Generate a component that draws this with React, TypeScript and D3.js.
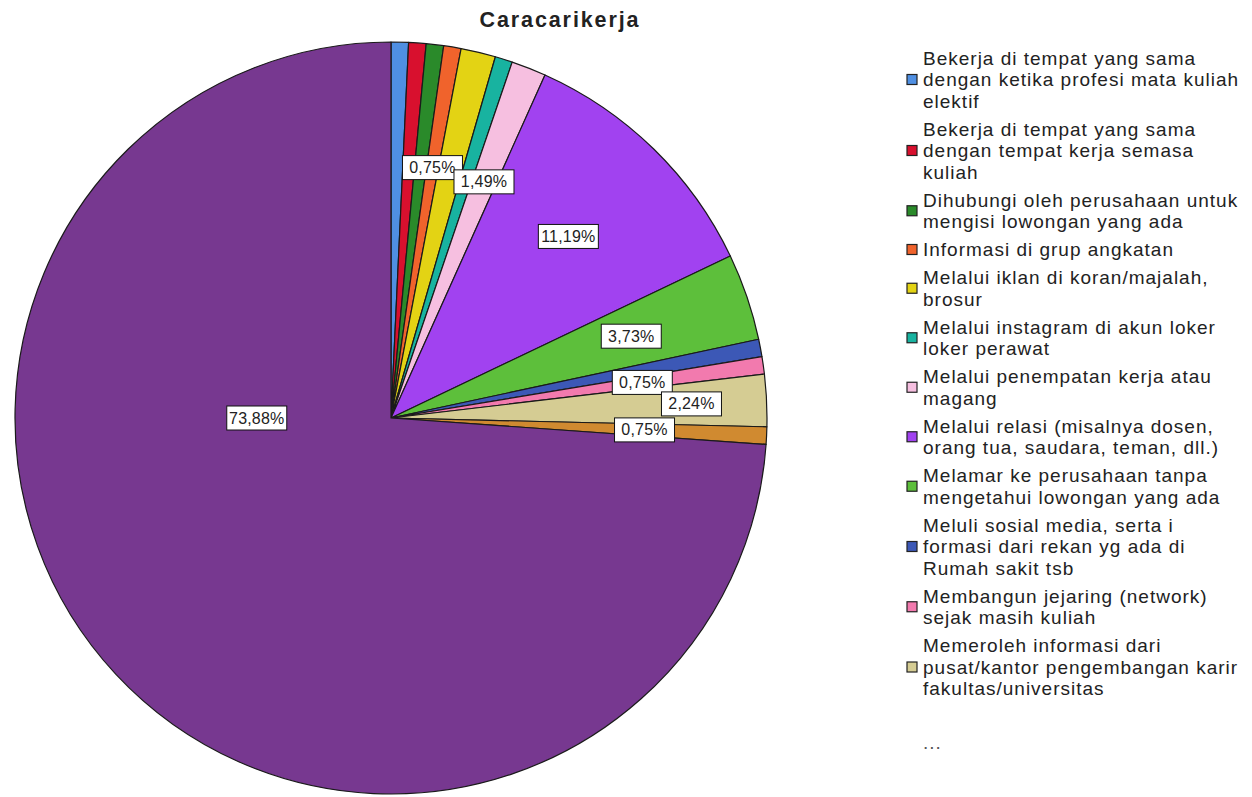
import { useMemo } from "react";
import * as d3 from "d3";

const categories = [
  "Bekerja di tempat yang sama dengan ketika profesi mata kuliah elektif",
  "Bekerja di tempat yang sama dengan tempat kerja semasa kuliah",
  "Dihubungi oleh perusahaan untuk mengisi lowongan yang ada",
  "Informasi di grup angkatan",
  "Melalui iklan di koran/majalah, brosur",
  "Melalui instagram di akun loker loker perawat",
  "Melalui penempatan kerja atau magang",
  "Melalui relasi (misalnya dosen, orang tua, saudara, teman, dll.)",
  "Melamar ke perusahaan tanpa mengetahui lowongan yang ada",
  "Meluli sosial media, serta i formasi dari rekan yg ada di Rumah sakit tsb",
  "Membangun jejaring (network) sejak masih kuliah",
  "Memeroleh informasi dari pusat/kantor pengembangan karir fakultas/universitas",
  "Lainnya",
  "Tidak menjawab",
];

// frequencies (n = 134)
const counts = [1, 1, 1, 1, 2, 1, 2, 15, 5, 1, 1, 3, 1, 99];

const colors = [
  "#4f8fe2", "#d8102e", "#2a8a2a", "#f0632c", "#e3d314", "#18b3a0", "#f6bfe0",
  "#a142f0", "#5dbf3b", "#3c58b6", "#f27aae", "#d5cc93", "#d08a30", "#773890",
];

// which slices carry a percentage label
const showLabel = [false, false, false, true, false, false, true, true, true, false, true, true, true, true];

// legend lines as wrapped in the original
const legendLines = [
  ["Bekerja di tempat yang sama", "dengan ketika profesi mata kuliah", "elektif"],
  ["Bekerja di tempat yang sama", "dengan tempat kerja semasa", "kuliah"],
  ["Dihubungi oleh perusahaan untuk", "mengisi lowongan yang ada"],
  ["Informasi di grup angkatan"],
  ["Melalui iklan di koran/majalah,", "brosur"],
  ["Melalui instagram di akun loker", "loker perawat"],
  ["Melalui penempatan kerja atau", "magang"],
  ["Melalui relasi (misalnya dosen,", "orang tua, saudara, teman, dll.)"],
  ["Melamar ke perusahaan tanpa", "mengetahui lowongan yang ada"],
  ["Meluli sosial media, serta i", "formasi dari rekan yg ada di", "Rumah sakit tsb"],
  ["Membangun jejaring (network)", "sejak masih kuliah"],
  ["Memeroleh informasi dari", "pusat/kantor pengembangan karir", "fakultas/universitas"],
];

const W = 1252;
const H = 797;
const cx = 391;
const cy = 418;
const R = 376;
const FONT = "'Liberation Sans', Arial, sans-serif";

export default function App() {
  const total = d3.sum(counts);
  const data = counts.map((c, i) => ({ name: categories[i], value: c, color: colors[i], i }));

  const arcs = useMemo(
    () => d3.pie<(typeof data)[number]>().sort(null).value((d) => d.value)(data),
    []
  );
  const arc = d3.arc<d3.PieArcDatum<(typeof data)[number]>>().innerRadius(0).outerRadius(R);

  const fmt = (v: number) => d3.format(".2f")((v / total) * 100).replace(".", ",") + "%";

  // label position: polar from centre
  const labelPos = (a: d3.PieArcDatum<(typeof data)[number]>) => {
    let ang = (a.startAngle + a.endAngle) / 2;
    let rr = R * 0.675;
    if (a.data.i === 11) rr = R * 0.8;
    if (a.data.i === 13) {
      ang = (3 * Math.PI) / 2;
      rr = R * 0.357;
    }
    return [cx + rr * Math.sin(ang), cy - rr * Math.cos(ang)];
  };

  // legend layout
  const lineH = 21.5;
  const entryGap = 6.5;
  let yCursor = 58;
  const legendItems = legendLines.map((lines, i) => {
    const top = yCursor;
    yCursor += lines.length * lineH + entryGap;
    return { lines, top, color: colors[i] };
  });

  return (
    <svg width={W} height={H} style={{ position: "absolute", left: 0, top: 0, background: "#fff" }}>
      <text x={560} y={27} textAnchor="middle" fontFamily={FONT} fontWeight="bold" fontSize={21.5}
        letterSpacing={1.9} fill="#222">
        Caracarikerja
      </text>

      <g>
        {arcs.map((a) => (
          <path key={a.data.i} d={arc(a) ?? ""} transform={`translate(${cx},${cy})`}
            fill={a.data.color} stroke="#1a1a1a" strokeWidth={1.2} strokeLinejoin="round" />
        ))}
      </g>

      <g fontFamily={FONT} fontSize={16}>
        {arcs.filter((a) => showLabel[a.data.i]).map((a) => {
          const [lx, ly] = labelPos(a);
          const bw = 60;
          const bh = 24;
          return (
            <g key={a.data.i}>
              <rect x={lx - bw / 2} y={ly - bh / 2} width={bw} height={bh} fill="#fff" stroke="#111" strokeWidth={1} />
              <text x={lx} y={ly} textAnchor="middle" dominantBaseline="central" fill="#222" letterSpacing={0.2}>
                {fmt(a.value)}
              </text>
            </g>
          );
        })}
      </g>

      <g fontFamily={FONT} fontSize={19} fill="#222" letterSpacing={1}>
        {legendItems.map((it, i) => {
          const mid = it.top + ((it.lines.length - 1) * lineH) / 2;
          return (
            <g key={i}>
              <rect x={907} y={mid - 5} width={10} height={10} fill={it.color} stroke="#222" strokeWidth={1.2} />
              {it.lines.map((ln, j) => (
                <text key={j} x={923} y={it.top + j * lineH} dominantBaseline="central" fill="#222">
                  {ln}
                </text>
              ))}
            </g>
          );
        })}
        <text x={923} y={742} dominantBaseline="central" fill="#555">...</text>
      </g>
    </svg>
  );
}
